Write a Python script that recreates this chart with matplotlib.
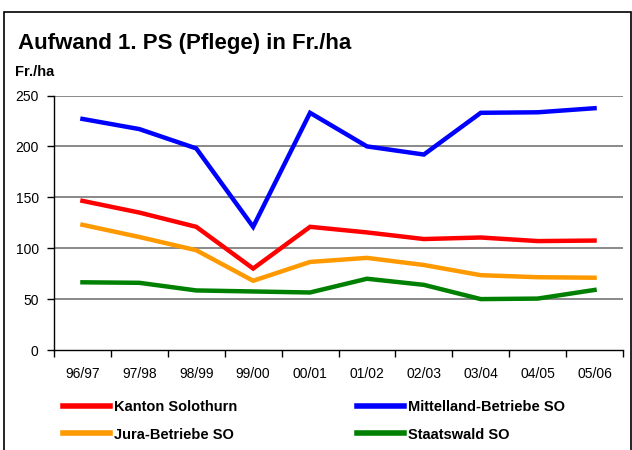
import matplotlib
matplotlib.use("Agg")
import matplotlib.pyplot as plt
from matplotlib.patches import Rectangle

plt.rcParams['font.family'] = ['Liberation Sans', 'DejaVu Sans']

categories = ["96/97", "97/98", "98/99", "99/00", "00/01", "01/02", "02/03", "03/04", "04/05", "05/06"]
kanton = [146.5, 135, 121, 80, 121, 115.5, 109, 110.5, 107, 107.5]
mittelland = [227, 217, 198, 121, 233, 200, 192, 233, 233.5, 237.5]
jura = [123, 111, 98, 68, 86.5, 90.5, 83.5, 73.5, 71.5, 71]
staatswald = [66.5, 66, 58.5, 57.5, 56.5, 70, 64, 50, 50.5, 59]

names = ["Kanton Solothurn", "Mittelland-Betriebe SO", "Jura-Betriebe SO", "Staatswald SO"]
colors = ["#FF0000", "#0000FF", "#FF9900", "#008000"]

W, H = 632, 450
fig = plt.figure(figsize=(W / 100, H / 100), dpi=100)
ax = fig.add_axes([54 / W, 1 - 350 / H, (623 - 54) / W, (350 - 95.5) / H])

x = list(range(len(categories)))
series = [kanton, mittelland, jura, staatswald]
lines = []
for vals, c, n in zip(series, colors, names):
    ln, = ax.plot(x, vals, color=c, lw=3.2, label=n, solid_joinstyle='miter', zorder=3)
    lines.append(ln)

ax.set_xlim(-0.5, len(categories) - 0.5)
ax.set_ylim(0, 250)
ax.set_yticks([0, 50, 100, 150, 200, 250])
ax.set_xticks([i - 0.5 for i in range(len(categories) + 1)])
ax.set_xticklabels([])
ax.set_xticks(x, minor=True)
ax.set_xticklabels(categories, minor=True)
ax.tick_params(axis='x', which='minor', length=0, pad=12, labelsize=10)
ax.tick_params(axis='x', which='major', length=5, width=1, direction='out')
ax.tick_params(axis='y', length=5, width=1, direction='out', pad=6, labelsize=10)

for v in [50, 100, 150, 200, 250]:
    ax.axhline(v, color='#808080', lw=1.3, zorder=1)

for s in ['top', 'right']:
    ax.spines[s].set_visible(False)
for s in ['left', 'bottom']:
    ax.spines[s].set_color('black')
    ax.spines[s].set_linewidth(1)

fig.text(18 / W, 1 - 43 / H, "Aufwand 1. PS (Pflege) in Fr./ha", fontsize=16,
         fontweight='bold', ha='left', va='center')
fig.text(15 / W, 1 - 72 / H, "Fr./ha", fontsize=10.5, fontweight='bold',
         ha='left', va='center')

common = dict(frameon=False, handlelength=3.2, handletextpad=0.27,
              borderpad=0, borderaxespad=0, labelspacing=0.9, loc='center left',
              prop={'weight': 'bold', 'size': 10.5})
leg1 = fig.legend([lines[0], lines[2]], [names[0], names[2]],
                  bbox_to_anchor=(63 / W, 1 - 421 / H), **common)
leg2 = fig.legend([lines[1], lines[3]], [names[1], names[3]],
                  bbox_to_anchor=(357 / W, 1 - 421 / H), **common)
for leg in (leg1, leg2):
    for l in leg.get_lines():
        l.set_linewidth(4)

fig.patches.append(Rectangle((4 / W, -0.1), (631 - 4) / W, 1.1 - 12 / H,
                             transform=fig.transFigure, fill=False,
                             edgecolor='black', lw=1.2))

fig.savefig("out.png", dpi=100)
